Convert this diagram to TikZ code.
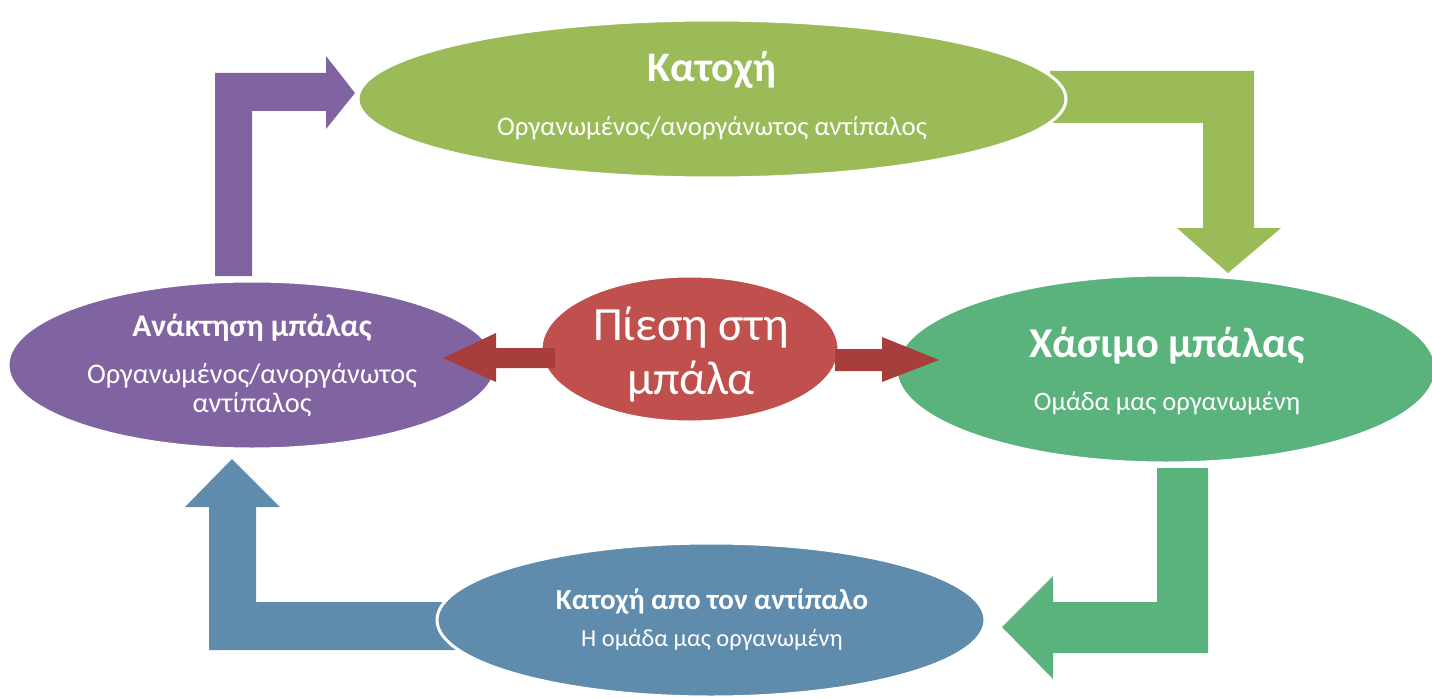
\documentclass[tikz,border=0pt]{standalone}
\usepackage{fontspec}
\setmainfont{Carlito}
\usetikzlibrary{shapes.geometric}
\definecolor{cpurple}{HTML}{8064A2}
\definecolor{cgreen}{HTML}{9BBB59}
\definecolor{cred}{HTML}{C0504D}
\definecolor{cdred}{HTML}{A83E3B}
\definecolor{cteal}{HTML}{5AB27C}
\definecolor{cblue}{HTML}{5F8BAD}
\tikzset{
  oval/.style={ellipse, inner sep=0pt, draw=white, line width=3pt},
  txt/.style={text=white, inner sep=0pt, align=center},
}
\newcommand{\fs}[1]{\fontsize{#1}{#1}\selectfont}
\begin{document}
\begin{tikzpicture}[x=1pt,y=-1pt]
\useasboundingbox (0,0) rectangle (1432,698);
% L-shaped block arrows
\fill[cpurple] (215,276) -- (215,73) -- (326,73) -- (326,56) -- (355,93) -- (326,129) -- (326,111) -- (252,111) -- (252,276) -- cycle;
\fill[cgreen] (1050,71) -- (1254,71) -- (1254,228) -- (1281,228) -- (1228,273) -- (1177,228) -- (1203,228) -- (1203,123) -- (1050,123) -- cycle;
\fill[cteal] (1157,468) -- (1208,468) -- (1208,653) -- (1053,653) -- (1053,679) -- (1002,627) -- (1053,576) -- (1053,602) -- (1157,602) -- cycle;
\fill[cblue] (460,602) -- (256,602) -- (256,507) -- (280,507) -- (232,459) -- (185,507) -- (209,507) -- (209,650) -- (460,650) -- cycle;
% ellipses
\node[oval, fill=cgreen, minimum width=708pt, minimum height=158pt] (top) at (712,99) {};
\node[oval, fill=cteal, minimum width=540pt, minimum height=188pt] (right) at (1166,369) {};
\node[oval, fill=cblue, minimum width=548pt, minimum height=154pt] (bottom) at (711,620) {};
\node[oval, fill=cpurple, minimum width=488pt, minimum height=168pt] (left) at (252,365) {};
\node[oval, fill=cred, minimum width=298pt, minimum height=146pt] (center) at (690,349) {};
% red double arrows
\fill[cdred] (555,348) -- (496,348) -- (496,333) -- (443,358) -- (496,382) -- (496,368) -- (555,368) -- cycle;
\fill[cdred] (835,349) -- (882,349) -- (882,337) -- (939,360) -- (882,382) -- (882,371) -- (835,371) -- cycle;
% texts
\node[txt, font=\fs{42}\bfseries] (topt) at (712,70) {Κατοχή};
\node[txt, font=\fs{26.8}] (tops) at (712,128) {Οργανωμένος/ανοργάνωτος αντίπαλος};
\node[txt, font=\fs{42.5}\bfseries] (rightt) at (1167,346) {Χάσιμο μπάλας};
\node[txt, font=\fs{26.6}] (rights) at (1167,403) {Ομάδα μας οργανωμένη};
\node[txt, font=\fs{29}\bfseries] (bottomt) at (712,602) {Κατοχή απο τον αντίπαλο};
\node[txt, font=\fs{24.4}] (bottoms) at (712,640) {Η ομάδα μας οργανωμένη};
\node[txt, font=\fs{31.5}\bfseries] (leftt) at (252,328) {Ανάκτηση μπάλας};
\node[txt, font=\fs{28.4}] (lefts1) at (252,376) {Οργανωμένος/ανοργάνωτος};
\node[txt, font=\fs{28.4}] (lefts2) at (252,405) {αντίπαλος};
\node[txt, font=\fs{47.7}] (c1) at (691,328) {Πίεση στη};
\node[txt, font=\fs{47.7}] (c2) at (691,382) {μπάλα};
\end{tikzpicture}
\end{document}
